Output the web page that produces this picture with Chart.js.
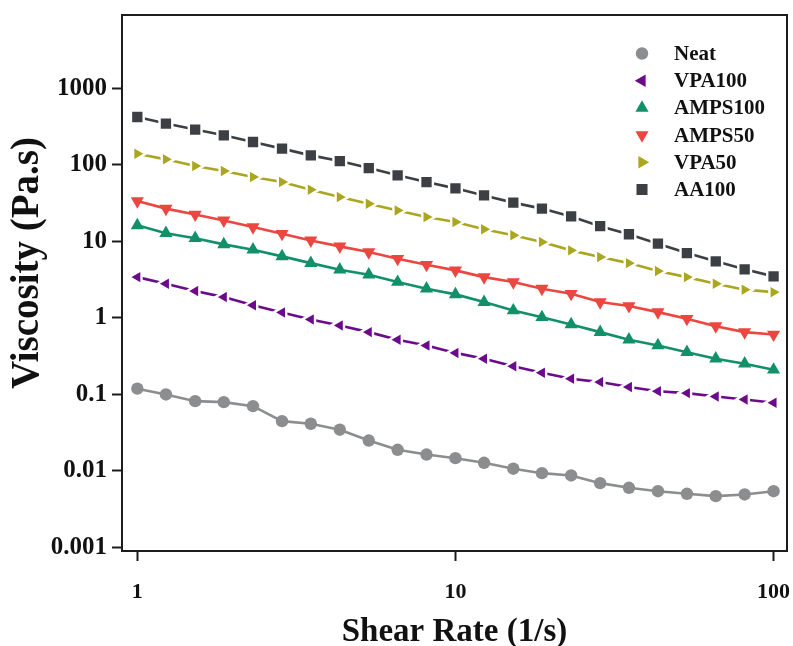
<!DOCTYPE html>
<html>
<head>
<meta charset="utf-8">
<script src="https://cdn.jsdelivr.net/npm/chart.js@4/dist/chart.umd.min.js"></script>
<style>
  html, body { margin: 0; padding: 0; background: #ffffff; }
  #wrap { width: 793px; height: 646px; }
</style>
</head>
<body>
<div id="wrap"><canvas id="c" width="793" height="646"></canvas></div>
<script>
// ---- data ----
const shearRate = [1, 1.23, 1.52, 1.87, 2.31, 2.85, 3.51, 4.33, 5.34, 6.58, 8.11, 10, 12.3, 15.2, 18.7, 23.1, 28.5, 35.1, 43.3, 53.4, 65.8, 81.1, 100];

const neat    = [0.119, 0.100, 0.0817, 0.0793, 0.0703, 0.0448, 0.0414, 0.0346, 0.0250, 0.0189, 0.0164, 0.0147, 0.0128, 0.0107, 0.00936, 0.00873, 0.00693, 0.00603, 0.00544, 0.00503, 0.00469, 0.00493, 0.00544];
const vpa100  = [3.41, 2.80, 2.24, 1.87, 1.46, 1.18, 0.956, 0.798, 0.652, 0.519, 0.437, 0.349, 0.293, 0.234, 0.192, 0.160, 0.145, 0.125, 0.110, 0.104, 0.094, 0.086, 0.078];
const amps100 = [16.2, 12.8, 11.0, 9.14, 7.79, 6.37, 5.20, 4.27, 3.67, 2.94, 2.41, 2.03, 1.61, 1.25, 1.02, 0.822, 0.652, 0.519, 0.437, 0.357, 0.293, 0.252, 0.210];
const amps50  = [33.6, 26.8, 22.5, 18.8, 15.4, 12.6, 10.3, 8.6, 7.25, 5.94, 4.96, 4.18, 3.41, 2.94, 2.41, 2.07, 1.61, 1.43, 1.19, 0.977, 0.78, 0.652, 0.608];
const vpa50   = [140, 118, 96.5, 83, 69.3, 59.6, 47.4, 37.9, 31.1, 25.4, 20.8, 17.9, 14.4, 12.0, 9.79, 7.63, 6.24, 5.20, 4.09, 3.41, 2.80, 2.34, 2.17];
const aa100   = [422, 346, 289, 243, 199, 163, 133, 112, 90.8, 72.9, 59.6, 49.3, 39.9, 32.1, 26.8, 21.2, 15.8, 12.4, 9.33, 7.03, 5.48, 4.31, 3.49];

const seriesLabels = ['Neat', 'VPA100', 'AMPS100', 'AMPS50', 'VPA50', 'AA100'];
const xTicks = [1, 10, 100];
const yTicks = [0.001, 0.01, 0.1, 1, 10, 100, 1000];
const xTitle = 'Shear Rate (1/s)';
const yTitle = 'Viscosity (Pa.s)';

// ---- styling ----
const FONT = "'Liberation Serif', 'Times New Roman', serif";
const AXIS = '#1c1c1c';
const styles = [
  { color: '#8b8d8f', style: 'circle',   rot: 0,   r: 6.2, gap: false },
  { color: '#6b0b8c', style: 'triangle', rot: -90, r: 7.2, gap: true  },
  { color: '#12906a', style: 'triangle', rot: 0,   r: 7.6, gap: false },
  { color: '#ec4640', style: 'triangle', rot: 180, r: 7.6, gap: false },
  { color: '#aaa61f', style: 'triangle', rot: 90,  r: 7.2, gap: true  },
  { color: '#3c4044', style: 'rect',     rot: 0,   r: 7.8, gap: true  }
];
const seriesValues = [neat, vpa100, amps100, amps50, vpa50, aa100];

const datasets = seriesValues.map((vals, i) => {
  const s = styles[i];
  return {
    label: seriesLabels[i],
    data: vals.map((v, k) => ({ x: shearRate[k], y: v })),
    borderColor: s.color,
    backgroundColor: s.color,
    borderWidth: 2.6,
    pointStyle: s.style,
    pointRotation: s.rot,
    pointRadius: s.gap ? s.r + 1.2 : s.r,
    pointHoverRadius: s.r,
    pointBackgroundColor: s.color,
    pointBorderColor: s.gap ? '#ffffff' : s.color,
    pointBorderWidth: s.gap ? 2.4 : 0,
    tension: 0,
    fill: false
  };
});

const framePlugin = {
  id: 'frame',
  afterDraw(chart) {
    const { ctx, chartArea: a } = chart;
    ctx.save();
    ctx.strokeStyle = AXIS;
    ctx.lineWidth = 2;
    ctx.strokeRect(a.left, a.top, a.right - a.left, a.bottom - a.top);
    // y-axis title (placed like the reference, slightly above the axis centre)
    ctx.translate(28, 263);
    ctx.rotate(-Math.PI / 2);
    ctx.fillStyle = '#111111';
    ctx.font = 'bold 39px ' + FONT;
    ctx.textAlign = 'center';
    ctx.textBaseline = 'middle';
    ctx.fillText(yTitle, 0, 0);
    ctx.restore();
  }
};

const legendPlugin = {
  id: 'customLegend',
  afterDraw(chart) {
    const ctx = chart.ctx;
    ctx.save();
    const x0 = 642, tx = 674, y0 = 53.5, dy = 27.2;
    chart.data.datasets.forEach((ds, i) => {
      const s = styles[i];
      const y = y0 + i * dy;
      ctx.fillStyle = s.color;
      ctx.strokeStyle = s.color;
      Chart.helpers.drawPoint(ctx, { pointStyle: s.style, rotation: s.rot, radius: s.r, borderWidth: 0 }, x0, y);
      ctx.fillStyle = '#111111';
      ctx.font = 'bold 21px ' + FONT;
      ctx.textAlign = 'left';
      ctx.textBaseline = 'middle';
      ctx.fillText(ds.label, tx, y + 1);
    });
    ctx.restore();
  }
};

new Chart(document.getElementById('c'), {
  type: 'line',
  data: { datasets },
  plugins: [framePlugin, legendPlugin],
  options: {
    responsive: false,
    animation: false,
    devicePixelRatio: 1,
    layout: { autoPadding: false, padding: { left: 0, right: 6, top: 15, bottom: 0 } },
    plugins: { legend: { display: false }, tooltip: { enabled: false } },
    scales: {
      x: {
        type: 'logarithmic',
        min: 0.895,
        max: 110.2,
        afterBuildTicks(scale) { scale.ticks = xTicks.map(v => ({ value: v })); },
        afterFit(scale) { scale.height = 95; scale.paddingLeft = 0; scale.paddingRight = 0; },
        border: { display: false },
        grid: { drawOnChartArea: false, drawTicks: true, tickLength: 10, tickWidth: 2, tickColor: AXIS, color: AXIS },
        ticks: {
          color: '#111111', padding: 18, maxRotation: 0, autoSkip: false,
          font: { family: FONT, size: 22, weight: 'bold' },
          callback: (v) => String(v)
        },
        title: {
          display: true, text: xTitle, color: '#111111',
          font: { family: FONT, size: 33, weight: 'bold' },
          padding: { top: 0, bottom: -6 }
        }
      },
      y: {
        type: 'logarithmic',
        min: 0.0009,
        max: 9080,
        afterBuildTicks(scale) { scale.ticks = yTicks.map(v => ({ value: v })); },
        afterFit(scale) { scale.width = 122; scale.paddingTop = 0; scale.paddingBottom = 0; },
        border: { display: false },
        grid: { drawOnChartArea: false, drawTicks: true, tickLength: 10, tickWidth: 2, tickColor: AXIS, color: AXIS },
        ticks: {
          color: '#111111', padding: 5, autoSkip: false,
          font: { family: FONT, size: 25, weight: 'bold' },
          callback: (v) => String(v)
        },
        title: { display: false }
      }
    }
  }
});
</script>
</body>
</html>
